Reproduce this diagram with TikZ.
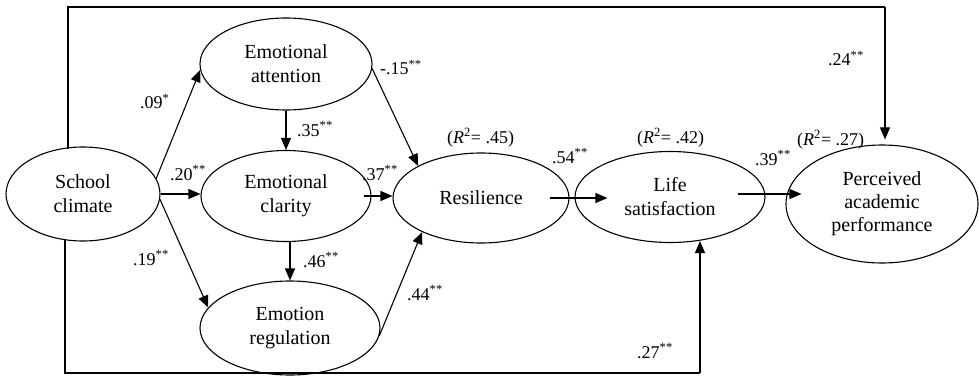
\documentclass[tikz,border=0pt]{standalone}
\usepackage{fontspec}
\setmainfont{Liberation Serif}
\usetikzlibrary{shapes.geometric,arrows.meta}
\begin{document}
\begin{tikzpicture}[x=1pt,y=-1pt,
  latent/.style={draw, ellipse, inner sep=0pt, align=center, font=\fontsize{20}{24}\selectfont, line width=1.1pt},
  lbl/.style={anchor=base west, inner sep=0pt, font=\fontsize{18}{22}\selectfont},
  arr/.style={-{Triangle[length=12pt,width=10pt]}, line width=1.1pt},
  fbline/.style={line width=2.6pt}
]
\useasboundingbox (0,0) rectangle (979,377);

\node[latent, minimum width=154pt, minimum height=94pt] (sc) at (83,194) {School\\climate};
\node[latent, minimum width=172pt, minimum height=92pt] (ea) at (286,64) {Emotional\\attention};
\node[latent, minimum width=170pt, minimum height=91pt] (ec) at (286,196) {Emotional\\clarity};
\node[latent, minimum width=180pt, minimum height=94pt] (er) at (290,328) {Emotion\\regulation};
\node[latent, minimum width=176pt, minimum height=90pt] (res) at (481,198) {Resilience};
\node[latent, minimum width=190pt, minimum height=91pt] (ls) at (670,197) {Life\\satisfaction};
\node[latent, minimum width=192pt, minimum height=118pt, font=\fontsize{20}{23}\selectfont] (pap) at (882,204) {Perceived\\academic\\performance};

% direct paths
\draw[arr] (sc.12) -- (ea.184);
\draw[arr] (sc.east) -- (ec.west |- sc.east);
\draw[arr] (sc.-4) -- (er.166);
\draw[arr] (ea.south) -- (ec.north);
\draw[arr] (er.north |- ec.south) -- (er.north);
\draw[arr] (ea.-3) -- (res.153);
\draw[arr] ([xshift=-8pt]ec.east) -- (res.west |- ec.east);
\draw[arr] (er.-5) -- (res.210);
\draw[arr] ([xshift=-20pt]res.east) -- ([xshift=33pt]ls.west |- res.east);
\coordinate (lsout) at ([xshift=-28pt,yshift=3pt]ls.east);
\draw[arr] (lsout) -- ([xshift=16pt]pap.west |- lsout);

% long feedback paths
\coordinate (topc) at (885,7);
\draw[fbline] ([xshift=-15pt,yshift=-3pt]sc.north) |- (topc);
\draw[arr] (topc) -- ([yshift=5pt]topc |- pap.north);
\coordinate (botc) at (700,373);
\draw[fbline] ([xshift=-18pt,yshift=2pt]sc.south) |- (botc);
\draw[arr] (botc) -- ([yshift=2pt]botc |- ls.south);

% labels
\node[lbl] (l09) at (140,109) {.09\textsuperscript{*}};
\node[lbl] (l15) at (380,75) {-.15\textsuperscript{**}};
\node[lbl] (l35) at (297,136) {.35\textsuperscript{**}};
\node[lbl] (l20) at (170,180) {.20\textsuperscript{**}};
\node[lbl] (l37) at (362,180) {.37\textsuperscript{**}};
\node[lbl] (r45) at (447,143) {(\textit{R}\textsuperscript{2}= .45)};
\node[lbl] (l54) at (552,163) {.54\textsuperscript{**}};
\node[lbl] (r42) at (637,143) {(\textit{R}\textsuperscript{2}= .42)};
\node[lbl] (l39) at (755,165) {.39\textsuperscript{**}};
\node[lbl] (r27) at (797,145) {(\textit{R}\textsuperscript{2}= .27)};
\node[lbl] (l24) at (828,66) {.24\textsuperscript{**}};
\node[lbl] (l19) at (133,265) {.19\textsuperscript{**}};
\node[lbl] (l46) at (303,267) {.46\textsuperscript{**}};
\node[lbl] (l44) at (407,300) {.44\textsuperscript{**}};
\node[lbl] (l27) at (637,358) {.27\textsuperscript{**}};
\end{tikzpicture}
\end{document}
